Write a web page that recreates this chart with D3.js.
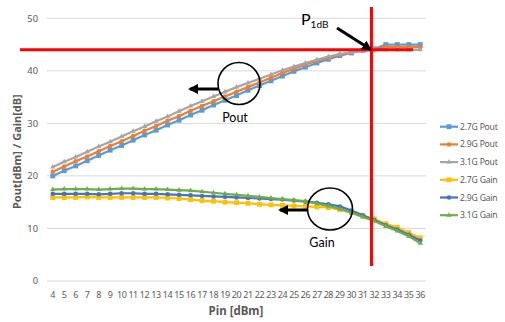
<!DOCTYPE html>
<html>
  <head>
    <meta charset="utf-8" />
    <title>pout-gain</title>
    <style>
      html,
      body {
        margin: 0;
        padding: 0;
        background: #fff;
      }
      svg {
        display: block;
        font-family: 'Noto Sans', 'DejaVu Sans', sans-serif;
      }
    </style>
  </head>
  <body>
    <svg width="505" height="322"></svg>
    <script src="https://cdn.jsdelivr.net/npm/d3@7/dist/d3.min.js"></script>
    <script>
      // Pin [dBm]
      const pin = [4, 5, 6, 7, 8, 9, 10, 11, 12, 13, 14, 15, 16, 17, 18, 19, 20,
        21, 22, 23, 24, 25, 26, 27, 28, 29, 30, 31, 32, 33, 34, 35, 36];

      const pout27 = [20.0, 21.0, 21.9, 22.9, 23.9, 24.9, 25.8, 26.8, 27.8, 28.7, 29.7,
        30.6, 31.6, 32.5, 33.5, 34.4, 35.3, 36.3, 37.2, 38.1, 39.0, 39.9, 40.7, 41.5,
        42.2, 42.9, 43.4, 43.9, 44.2, 45.0, 45.0, 45.0, 45.0];
      const pout29 = [20.8, 21.8, 22.8, 23.7, 24.7, 25.7, 26.6, 27.6, 28.6, 29.5, 30.5,
        31.4, 32.4, 33.3, 34.2, 35.1, 36.0, 36.9, 37.8, 38.7, 39.6, 40.4, 41.2, 41.9,
        42.5, 43.1, 43.5, 43.9, 44.1, 44.5, 44.5, 44.5, 44.5];
      const pout31 = [21.7, 22.7, 23.6, 24.6, 25.6, 26.5, 27.5, 28.5, 29.4, 30.4, 31.3,
        32.3, 33.3, 34.2, 35.1, 36.0, 36.9, 37.7, 38.5, 39.3, 40.1, 40.8, 41.5, 42.1,
        42.7, 43.2, 43.5, 43.8, 44.0, 44.0, 44.0, 44.0, 44.0];

      const gain27 = [15.9, 15.9, 15.9, 16.0, 15.9, 15.9, 15.9, 15.9, 15.9, 15.9, 15.8,
        15.7, 15.5, 15.3, 15.2, 15.0, 14.9, 14.8, 14.6, 14.5, 14.4, 14.3, 14.2, 14.1,
        14.0, 13.6, 13.0, 12.4, 11.8, 10.9, 10.2, 9.2, 8.2];
      const gain29 = [16.6, 16.6, 16.6, 16.6, 16.5, 16.6, 16.7, 16.7, 16.6, 16.6, 16.5,
        16.4, 16.3, 16.2, 16.1, 16.0, 15.9, 15.8, 15.7, 15.6, 15.5, 15.3, 15.1, 14.9,
        14.6, 14.2, 13.4, 12.5, 11.6, 10.6, 9.8, 8.8, 7.7];
      const gain31 = [17.4, 17.5, 17.5, 17.5, 17.4, 17.5, 17.6, 17.6, 17.5, 17.5, 17.4,
        17.3, 17.2, 17.0, 16.8, 16.6, 16.4, 16.2, 16.0, 15.8, 15.6, 15.4, 15.2, 14.7,
        14.3, 13.7, 13.0, 12.2, 11.4, 10.4, 9.5, 8.5, 7.2];

      const seriesNames = ['2.7G Pout', '2.9G Pout', '3.1G Pout', '2.7G Gain', '2.9G Gain', '3.1G Gain'];
      const yTicks = [0, 10, 20, 30, 40, 50];

      // P1dB 표시점
      const p1dbPin = 31.75;
      const p1dbPout = 44;

      const series = [pout27, pout29, pout31, gain27, gain29, gain31].map((vals, i) => ({
        name: seriesNames[i],
        values: vals.map((v, j) => ({ x: pin[j], y: v })),
      }));

      const colors = ['#5B9BD5', '#ED7D31', '#A5A5A5', '#FFC000', '#4472C4', '#70AD47'];
      const shapes = [d3.symbolSquare, d3.symbolCircle, d3.symbolTriangle,
        d3.symbolSquare, d3.symbolCircle, d3.symbolTriangle];
      const shapeSize = [24, 16, 12, 24, 16, 12];

      const svg = d3.select('svg');
      const x = d3.scaleLinear().domain([3.5, 36.5]).range([47, 426]);
      const y = d3.scaleLinear().domain([0, 50]).range([281, 18.3]);
      const textGray = '#595959';

      // 격자선
      svg.append('g')
        .selectAll('line')
        .data(yTicks)
        .join('line')
        .attr('x1', x.range()[0])
        .attr('x2', x.range()[1])
        .attr('y1', (d) => y(d))
        .attr('y2', (d) => y(d))
        .attr('stroke', '#D9D9D9')
        .attr('stroke-width', 1);

      // y축 눈금
      svg.append('g')
        .selectAll('text')
        .data(yTicks)
        .join('text')
        .attr('x', 38)
        .attr('y', (d) => y(d))
        .attr('dy', '0.35em')
        .attr('text-anchor', 'end')
        .attr('font-size', 9.3)
        .attr('fill', textGray)
        .text((d) => d);

      // x축 눈금
      svg.append('g')
        .selectAll('text')
        .data(pin)
        .join('text')
        .attr('x', (d) => x(d))
        .attr('y', 298)
        .attr('text-anchor', 'middle')
        .attr('font-size', 9)
        .attr('letter-spacing', -0.4)
        .attr('fill', textGray)
        .text((d) => d);

      // 축 제목
      svg.append('text')
        .attr('transform', `translate(21,${(y(0) + y(50)) / 2 + 2}) rotate(-90)`)
        .attr('text-anchor', 'middle')
        .attr('font-size', 11)
        .attr('font-weight', 'bold')
        .attr('fill', textGray)
        .text('Pout[dBm] / Gain[dB]');

      svg.append('text')
        .attr('x', 236)
        .attr('y', 315)
        .attr('text-anchor', 'middle')
        .attr('font-size', 11.5)
        .attr('font-weight', 'bold')
        .attr('fill', textGray)
        .text('Pin [dBm]');

      const line = d3.line().x((d) => x(d.x)).y((d) => y(d.y));

      const sg = svg.append('g')
        .selectAll('g')
        .data(series)
        .join('g');

      sg.append('path')
        .attr('d', (d) => line(d.values))
        .attr('fill', 'none')
        .attr('stroke', (d, i) => colors[i])
        .attr('stroke-width', 2.2)
        .attr('stroke-linejoin', 'round');

      sg.each(function (d, i) {
        d3.select(this)
          .selectAll('path.mk')
          .data(d.values)
          .join('path')
          .attr('class', 'mk')
          .attr('transform', (p) => `translate(${x(p.x)},${y(p.y)})`)
          .attr('d', d3.symbol(shapes[i], shapeSize[i]))
          .attr('fill', colors[i]);
      });

      // 빨간 기준선 (P1dB)
      svg.append('line')
        .attr('x1', 20)
        .attr('x2', 413)
        .attr('y1', y(p1dbPout))
        .attr('y2', y(p1dbPout))
        .attr('stroke', '#FF0000')
        .attr('stroke-width', 3);
      svg.append('line')
        .attr('x1', x(p1dbPin))
        .attr('x2', x(p1dbPin))
        .attr('y1', 7)
        .attr('y2', 266)
        .attr('stroke', '#FF0000')
        .attr('stroke-width', 3);

      // 화살표 머리
      svg.append('defs')
        .append('marker')
        .attr('id', 'head')
        .attr('viewBox', '0 0 10 10')
        .attr('refX', 8)
        .attr('refY', 5)
        .attr('markerWidth', 3.4)
        .attr('markerHeight', 3.4)
        .attr('orient', 'auto')
        .append('path')
        .attr('d', 'M0,0 L10,5 L0,10 Z')
        .attr('fill', '#000');

      const ann = svg.append('g');

      // P1dB 라벨 + 화살표
      const pl = ann.append('text')
        .attr('x', 301)
        .attr('y', 25)
        .attr('font-family', 'Lato, sans-serif')
        .attr('font-size', 16)
        .attr('fill', '#000');
      pl.append('tspan').text('P');
      pl.append('tspan').attr('dy', 3).attr('font-size', 10).text('1dB');

      ann.append('line')
        .attr('x1', 337)
        .attr('y1', 28)
        .attr('x2', x(p1dbPin) - 1)
        .attr('y2', y(p1dbPout) - 0.5)
        .attr('stroke', '#000')
        .attr('stroke-width', 3)
        .attr('marker-end', 'url(#head)');

      // Pout 원
      ann.append('circle')
        .attr('cx', 239)
        .attr('cy', 83.5)
        .attr('r', 21)
        .attr('fill', 'none')
        .attr('stroke', '#000')
        .attr('stroke-width', 1.6);
      ann.append('line')
        .attr('x1', 218)
        .attr('y1', 89)
        .attr('x2', 190)
        .attr('y2', 89)
        .attr('stroke', '#000')
        .attr('stroke-width', 3)
        .attr('marker-end', 'url(#head)');
      ann.append('text')
        .attr('x', 235)
        .attr('y', 122)
        .attr('text-anchor', 'middle')
        .attr('font-family', 'Lato, sans-serif')
        .attr('font-size', 12.5)
        .attr('fill', '#000')
        .text('Pout');

      // Gain 원
      ann.append('ellipse')
        .attr('cx', 330)
        .attr('cy', 209)
        .attr('rx', 22.5)
        .attr('ry', 21)
        .attr('fill', 'none')
        .attr('stroke', '#000')
        .attr('stroke-width', 1.6);
      ann.append('line')
        .attr('x1', 308)
        .attr('y1', 210)
        .attr('x2', 280)
        .attr('y2', 210)
        .attr('stroke', '#000')
        .attr('stroke-width', 3)
        .attr('marker-end', 'url(#head)');
      ann.append('text')
        .attr('x', 322)
        .attr('y', 247)
        .attr('text-anchor', 'middle')
        .attr('font-family', 'Lato, sans-serif')
        .attr('font-size', 12.5)
        .attr('fill', '#000')
        .text('Gain');

      // 범례
      const lg = svg.append('g')
        .selectAll('g')
        .data(series)
        .join('g')
        .attr('transform', (d, i) => `translate(440,${126.7 + i * 17.7})`);
      lg.append('line')
        .attr('x1', 0)
        .attr('x2', 18)
        .attr('stroke', (d, i) => colors[i])
        .attr('stroke-width', 2.2);
      lg.append('path')
        .attr('transform', 'translate(9,0)')
        .attr('d', (d, i) => d3.symbol(shapes[i], shapeSize[i])())
        .attr('fill', (d, i) => colors[i]);
      lg.append('text')
        .attr('x', 20)
        .attr('dy', '0.35em')
        .attr('font-size', 8.6)
        .attr('letter-spacing', -0.2)
        .attr('fill', textGray)
        .text((d) => d.name);
    </script>
  </body>
</html>
